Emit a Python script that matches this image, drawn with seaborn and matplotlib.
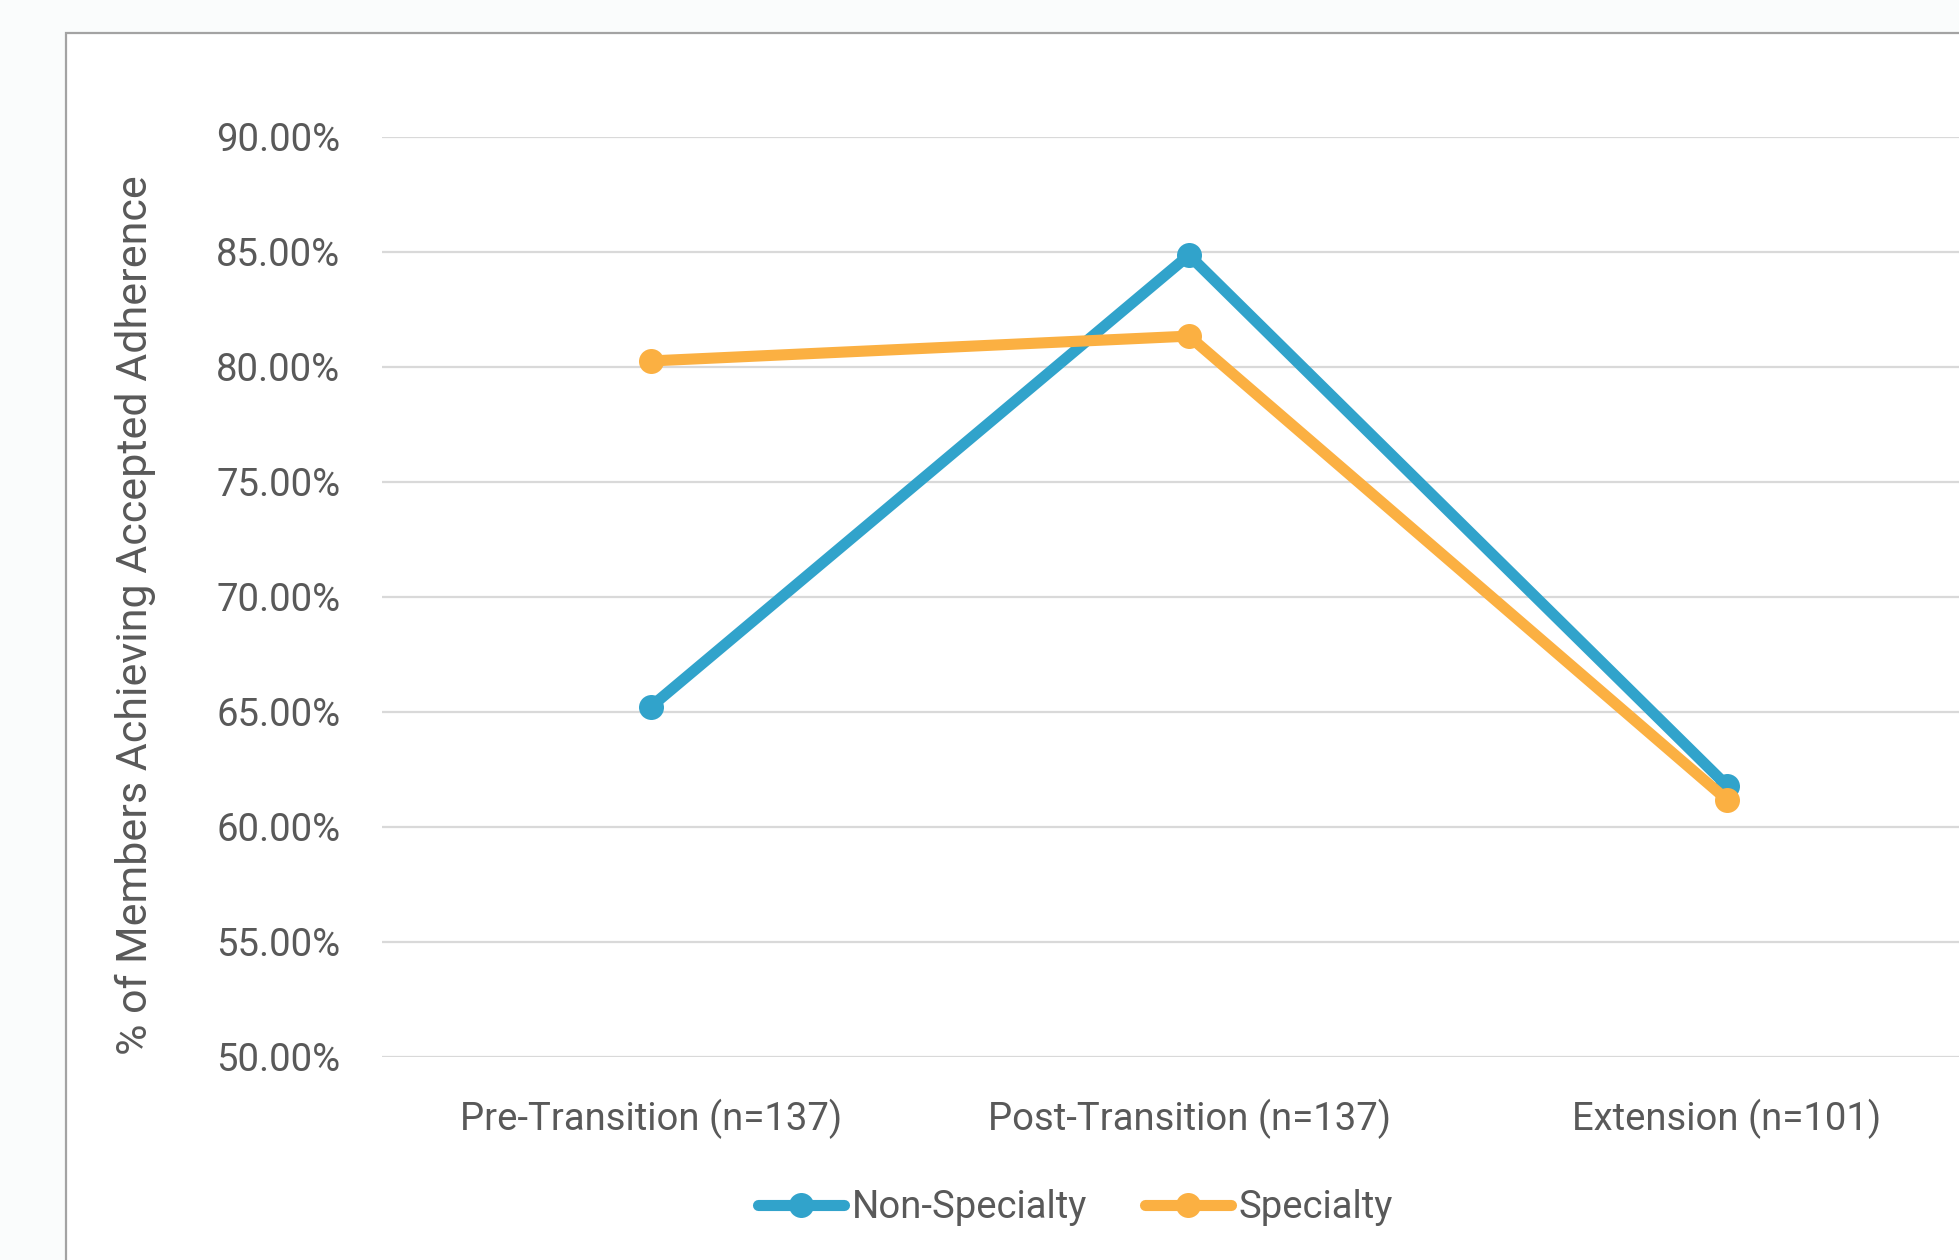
import matplotlib
matplotlib.use("Agg")
import matplotlib.pyplot as plt
from matplotlib.patches import Rectangle
from matplotlib.lines import Line2D
from matplotlib.ticker import FuncFormatter, MultipleLocator
import seaborn as sns
import pandas as pd

# Adherence by study period
periods = ["Pre-Transition (n=137)", "Post-Transition (n=137)", "Extension (n=101)"]
non_specialty = [65.22, 84.85, 61.78]
specialty = [80.25, 81.33, 61.17]
series_names = ["Non-Specialty", "Specialty"]
colors = {"Non-Specialty": "#31A3CB", "Specialty": "#FBB042"}

df = pd.DataFrame({
    "Period": periods * 2,
    "Adherence": non_specialty + specialty,
    "Group": [series_names[0]] * 3 + [series_names[1]] * 3,
})

sns.set_theme(style="white")
plt.rcParams["font.family"] = ["Roboto", "DejaVu Sans"]

W, H = 1959, 1260
fig = plt.figure(figsize=(W / 100, H / 100), dpi=100, facecolor="#FAFCFC")

# chart panel
panel = Rectangle((66 / W, -0.2), 1.2, (H - 33) / H + 0.2, transform=fig.transFigure,
                  facecolor="white", edgecolor="#A3A3A3", linewidth=1.6, zorder=-5)
fig.patches.append(panel)

ax = fig.add_axes([382 / W, (H - 1056.7) / H, 1614 / W, 920 / H])
ax.set_facecolor("none")

sns.lineplot(data=df, x="Period", y="Adherence", hue="Group", palette=colors,
             marker="o", markersize=18, markeredgewidth=0, linewidth=8,
             sort=False, legend=False, ax=ax, zorder=3)

ax.set_xlim(-0.5, 2.5)
ax.set_ylim(50, 90)
ax.yaxis.set_major_locator(MultipleLocator(5))
ax.yaxis.set_major_formatter(FuncFormatter(lambda v, p: f"{v:.2f}%"))
ax.grid(axis="y", color="#D9D9D9", linewidth=1.6)
ax.grid(axis="x", visible=False)
ax.set_axisbelow(True)
for s in ax.spines.values():
    s.set_visible(False)

ax.tick_params(axis="both", length=0, labelsize=27.5, labelcolor="#595959")
ax.tick_params(axis="y", pad=30)
ax.tick_params(axis="x", pad=30)
ax.set_xlabel("")
ax.set_ylabel("% of Members Achieving Accepted Adherence", fontsize=31, color="#595959")
ax.yaxis.set_label_coords(-0.140, 0.48)

handles = [Line2D([], [], color=colors[n], linewidth=8, marker="o", markersize=18,
                  markeredgewidth=0) for n in series_names]
leg = fig.legend(handles, series_names, loc="center", bbox_to_anchor=(0.549, (H - 1208) / H),
                 ncol=2, frameon=False, fontsize=27.5, handlelength=2.25, handletextpad=0.2,
                 columnspacing=1.5)
for t in leg.get_texts():
    t.set_color("#595959")

fig.savefig("out.png", dpi=100, facecolor=fig.get_facecolor())
